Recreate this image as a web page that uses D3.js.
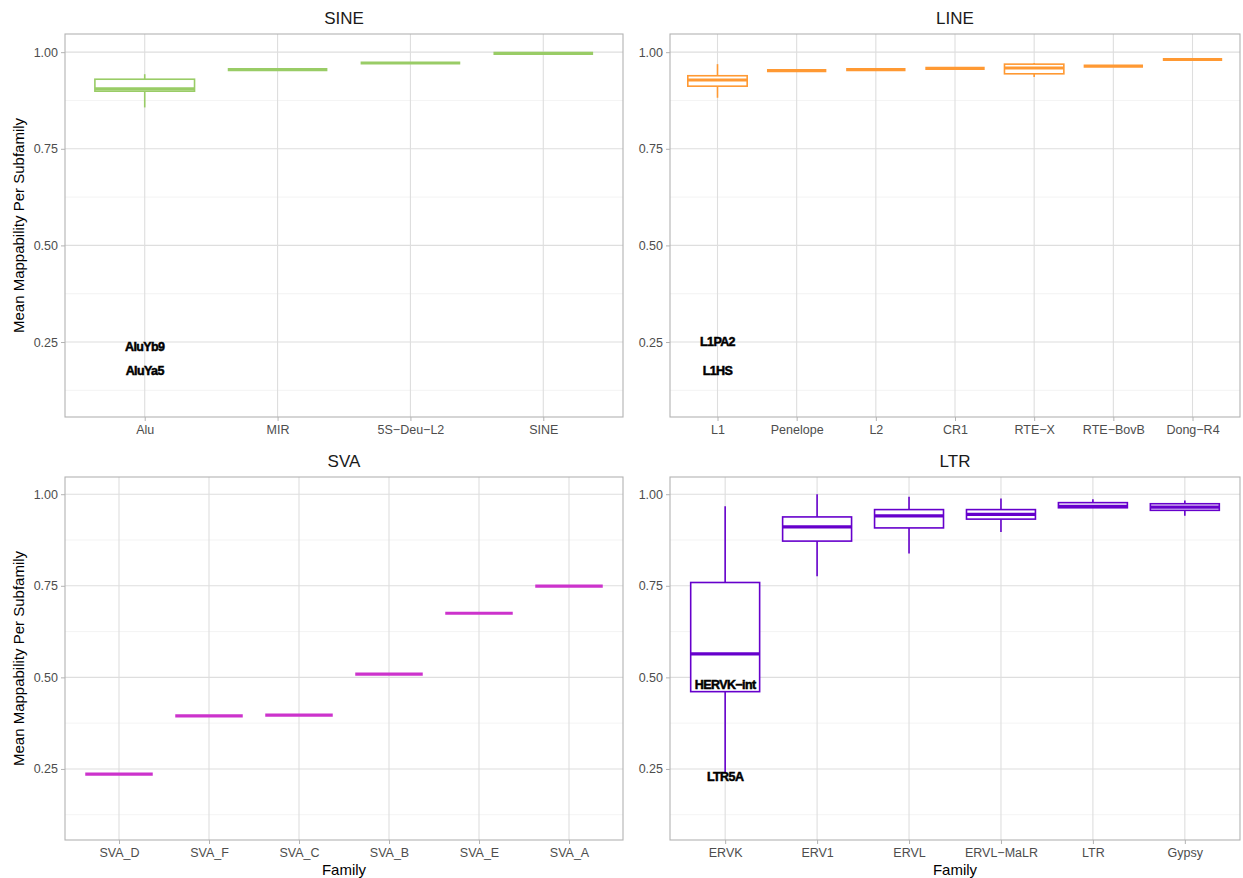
<!DOCTYPE html>
<html><head><meta charset="utf-8">
<script src="https://cdn.jsdelivr.net/npm/d3@7"></script>
<style>body{margin:0;background:#fff}svg{font-family:"Liberation Sans",Arial,sans-serif}</style>
</head><body><svg id="c" width="1243" height="878"></svg>
<script>
// Data: [lowerWhisker, q1, median, q3, upperWhisker] per family
const sineFamilies = ["Alu","MIR","5S-Deu-L2","SINE"];
const sineStats = [[0.857,0.899,0.905,0.930,0.943],[0.955,0.955,0.955,0.955,0.955],[0.972,0.972,0.972,0.972,0.972],[0.997,0.997,0.997,0.997,0.997]];
const sineLabels = [["AluYb9","Alu",0.237],["AluYa5","Alu",0.175]];

const lineFamilies = ["L1","Penelope","L2","CR1","RTE-X","RTE-BovB","Dong-R4"];
const lineStats = [[0.882,0.912,0.928,0.939,0.969],[0.952,0.952,0.952,0.952,0.952],[0.955,0.955,0.955,0.955,0.955],[0.958,0.958,0.958,0.958,0.958],[0.936,0.944,0.959,0.969,0.972],[0.964,0.964,0.964,0.964,0.964],[0.981,0.981,0.981,0.981,0.981]];
const lineLabels = [["L1PA2","L1",0.25],["L1HS","L1",0.177]];

const svaFamilies = ["SVA_D","SVA_F","SVA_C","SVA_B","SVA_E","SVA_A"];
const svaStats = [[0.236,0.236,0.236,0.236,0.236],[0.395,0.395,0.395,0.395,0.395],[0.397,0.397,0.397,0.397,0.397],[0.509,0.509,0.509,0.509,0.509],[0.675,0.675,0.675,0.675,0.675],[0.749,0.749,0.749,0.749,0.749]];
const svaLabels = [];

const ltrFamilies = ["ERVK","ERV1","ERVL","ERVL-MaLR","LTR","Gypsy"];
const ltrStats = [[0.239,0.461,0.564,0.759,0.967],[0.776,0.872,0.911,0.938,1.0],[0.838,0.908,0.941,0.958,0.993],[0.897,0.932,0.945,0.958,0.988],[0.963,0.963,0.967,0.977,0.986],[0.941,0.956,0.965,0.974,0.983]];
const ltrLabels = [["HERVK-int","ERVK",0.479],["LTR5A","ERVK",0.23]];

const yTicks = [0.25,0.50,0.75,1.00];
const yMinor = [0.125,0.375,0.625,0.875];
const yDomain = [0.056,1.047];

const minus = s => s.replace(/-/g,"\u2212");

const panels = [
  {title:"SINE", fams:sineFamilies, stats:sineStats, labels:sineLabels, color:"#99cc66", x0:65, x1:623, y0:34, y1:417, ylab:true, xlab:false},
  {title:"LINE", fams:lineFamilies, stats:lineStats, labels:lineLabels, color:"#ff9933", x0:670, x1:1240, y0:34, y1:417, ylab:false, xlab:false},
  {title:"SVA", fams:svaFamilies, stats:svaStats, labels:svaLabels, color:"#cc33cc", x0:65, x1:623, y0:477, y1:840, ylab:true, xlab:true},
  {title:"LTR", fams:ltrFamilies, stats:ltrStats, labels:ltrLabels, color:"#6600cc", x0:670, x1:1240, y0:477, y1:840, ylab:false, xlab:true}
];

const svg = d3.select("#c");
panels.forEach(p=>{
  const g = svg.append("g");
  const n = p.fams.length;
  const xl = d3.scaleLinear().domain([0.4, n+0.6]).range([p.x0,p.x1]);
  const x = f => xl(p.fams.indexOf(f)+1);
  const unit = xl(2)-xl(1);
  const y = d3.scaleLinear().domain(yDomain).range([p.y1,p.y0]);
  // grid
  g.selectAll(".mn").data(yMinor).join("line").attr("x1",p.x0).attr("x2",p.x1).attr("y1",d=>y(d)).attr("y2",d=>y(d)).attr("stroke","#ebebeb").attr("stroke-width",0.6);
  g.selectAll(".mj").data(yTicks).join("line").attr("x1",p.x0).attr("x2",p.x1).attr("y1",d=>y(d)).attr("y2",d=>y(d)).attr("stroke","#dedede").attr("stroke-width",1.1);
  g.selectAll(".vx").data(p.fams).join("line").attr("x1",d=>x(d)).attr("x2",d=>x(d)).attr("y1",p.y0).attr("y2",p.y1).attr("stroke","#dedede").attr("stroke-width",1.1);
  // axes
  const ya = d3.axisLeft(y).tickValues(yTicks).tickFormat(d3.format(".2f")).tickSize(4).tickPadding(3);
  const yg = g.append("g").attr("transform",`translate(${p.x0},0)`).call(ya);
  yg.select(".domain").remove();
  yg.selectAll("line").attr("stroke","#b3b3b3");
  yg.selectAll("text").attr("fill","#4d4d4d").style("font-size","12.5px");
  const xa = d3.axisBottom(d3.scalePoint().domain(p.fams).range([x(p.fams[0]),x(p.fams[n-1])])).tickSize(4).tickPadding(4).tickFormat(minus);
  const xg = g.append("g").attr("transform",`translate(0,${p.y1})`).call(xa);
  xg.select(".domain").remove();
  xg.selectAll("line").attr("stroke","#b3b3b3");
  xg.selectAll("text").attr("fill","#4d4d4d").style("font-size","12.5px");
  // boxes
  const bw = unit*0.75;
  p.stats.forEach((s,i)=>{
    const cx = x(p.fams[i]);
    const bg = g.append("g").attr("stroke",p.color).attr("fill","none");
    bg.append("line").attr("x1",cx).attr("x2",cx).attr("y1",y(s[4])).attr("y2",y(s[3])).attr("stroke-width",1.6);
    bg.append("line").attr("x1",cx).attr("x2",cx).attr("y1",y(s[1])).attr("y2",y(s[0])).attr("stroke-width",1.6);
    bg.append("rect").attr("x",cx-bw/2).attr("width",bw).attr("y",y(s[3])).attr("height",Math.max(0,y(s[1])-y(s[3]))).attr("fill","#fff").attr("stroke-width",1.6);
    bg.append("line").attr("x1",cx-bw/2).attr("x2",cx+bw/2).attr("y1",y(s[2])).attr("y2",y(s[2])).attr("stroke-width",3.2);
  });
  // labels
  p.labels.forEach(l=>{
    g.append("text").attr("x",x(l[1])).attr("y",y(l[2])).attr("dy","0.35em").attr("text-anchor","middle")
      .style("font-size","12.5px").style("font-weight","bold").attr("fill","#000").attr("stroke","#000").attr("stroke-width",0.5)
      .attr("letter-spacing","-0.6px").text(minus(l[0]));
  });
  // border
  g.append("rect").attr("x",p.x0).attr("y",p.y0).attr("width",p.x1-p.x0).attr("height",p.y1-p.y0).attr("fill","none").attr("stroke","#b3b3b3").attr("stroke-width",1.1);
  // title
  g.append("text").attr("x",(p.x0+p.x1)/2).attr("y",p.y0-10).attr("text-anchor","middle").style("font-size","17px").attr("fill","#1a1a1a").text(p.title);
  if(p.ylab){
    g.append("text").attr("transform",`translate(24,${(p.y0+p.y1)/2}) rotate(-90)`).attr("text-anchor","middle").style("font-size","15px").attr("fill","#000").text("Mean Mappability Per Subfamily");
  }
  if(p.xlab){
    g.append("text").attr("x",(p.x0+p.x1)/2).attr("y",875).attr("text-anchor","middle").style("font-size","15px").attr("fill","#000").text("Family");
  }
});
</script></body></html>
